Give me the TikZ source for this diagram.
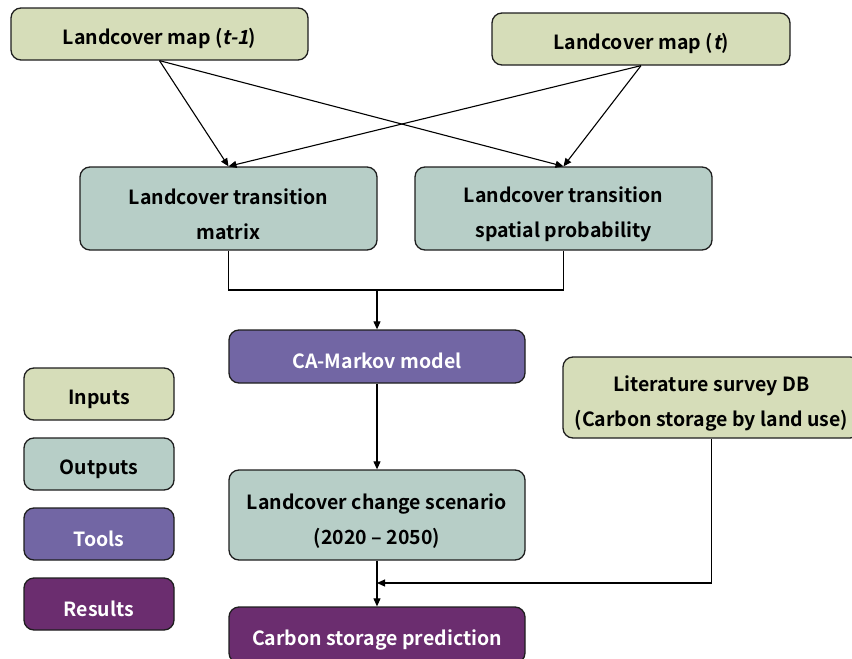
\documentclass[tikz,border=0pt]{standalone}
\usepackage{fontspec}
\setmainfont{Noto Sans CJK KR}[BoldFont={Noto Sans CJK KR Bold}, ItalicFont={Noto Sans CJK KR}, ItalicFeatures={FakeSlant=0.2}, BoldItalicFont={Noto Sans CJK KR Bold}, BoldItalicFeatures={FakeSlant=0.2}]
\usetikzlibrary{arrows.meta}
\definecolor{cin}{HTML}{D6DDB9}
\definecolor{cout}{HTML}{B7CEC7}
\definecolor{ctool}{HTML}{7266A4}
\definecolor{cres}{HTML}{6B2D6F}
\definecolor{edge}{HTML}{1E1E1E}
\newcommand{\upstrut}{\rule{0pt}{27pt}}
\tikzset{
  box/.style={draw=edge, line width=1.3pt, rounded corners=10pt, align=center, inner sep=0pt,
    font=\fontsize{19.5}{35}\selectfont\bfseries},
  inbox/.style={box, fill=cin, text=black},
  outbox/.style={box, fill=cout, text=black},
  toolbox/.style={box, fill=ctool, text=white},
  resbox/.style={box, fill=cres, text=white},
  conn/.style={draw=black, line width=1.1pt},
  arr/.style={conn, -{Triangle[length=8pt,width=7pt]}},
}
\begin{document}
\begin{tikzpicture}[x=1pt,y=-1pt]
\useasboundingbox (0,0) rectangle (852,659);
\node[inbox, minimum width=297pt, minimum height=52pt] (tl) at (159.5,34) {\rule{0pt}{25pt}Landcover map (\textit{t-1})};
\node[inbox, minimum width=298pt, minimum height=52pt] (tr) at (641,39) {\rule{0pt}{25pt}Landcover map (\textit{t})};
\node[outbox, minimum width=297pt, minimum height=83pt] (ml) at (228.5,208.5) {\upstrut Landcover transition\\matrix};
\node[outbox, minimum width=297pt, minimum height=83pt] (mr) at (563.5,208.5) {\upstrut Landcover transition\\spatial probability};
\node[toolbox, minimum width=296pt, minimum height=53pt] (ca) at (377,356.5) {\rule{0pt}{25pt}CA-Markov model};
\node[outbox, minimum width=296pt, minimum height=90pt] (sc) at (377,515) {\upstrut Landcover change scenario\\(2020 -- 2050)};
\node[resbox, minimum width=296pt, minimum height=56pt] (cs) at (377,635) {\rule{0pt}{25pt}Carbon storage prediction};
\node[inbox, minimum width=297pt, minimum height=81pt] (lit) at (711.5,397.5) {\upstrut Literature survey DB\\(Carbon storage by land use)};
\node[inbox, minimum width=150pt, minimum height=52pt] (lg1) at (99,394) {\rule{0pt}{25pt}Inputs};
\node[outbox, minimum width=150pt, minimum height=52pt] (lg2) at (99,464) {\rule{0pt}{25pt}Outputs};
\node[toolbox, minimum width=150pt, minimum height=52pt] (lg3) at (99,534) {\rule{0pt}{25pt}Tools};
\node[resbox, minimum width=150pt, minimum height=52pt] (lg4) at (99,604) {\rule{0pt}{25pt}Results};
\draw[arr] (tl.south) -- (ml.north);
\draw[arr] (tl.south) -- (mr.north);
\draw[arr] (tr.south) -- (ml.north);
\draw[arr] (tr.south) -- (mr.north);
\coordinate (j) at (377,290);
\coordinate (m) at (377,583);
\draw[conn] (ml.south) |- (j) -| (mr.south);
\draw[arr] (j) -- (ca.north);
\draw[arr] (ca.south) -- (sc.north);
\draw[arr] (sc.south) -- (cs.north);
\draw[arr] (lit.south) |- (m);
\end{tikzpicture}
\end{document}
